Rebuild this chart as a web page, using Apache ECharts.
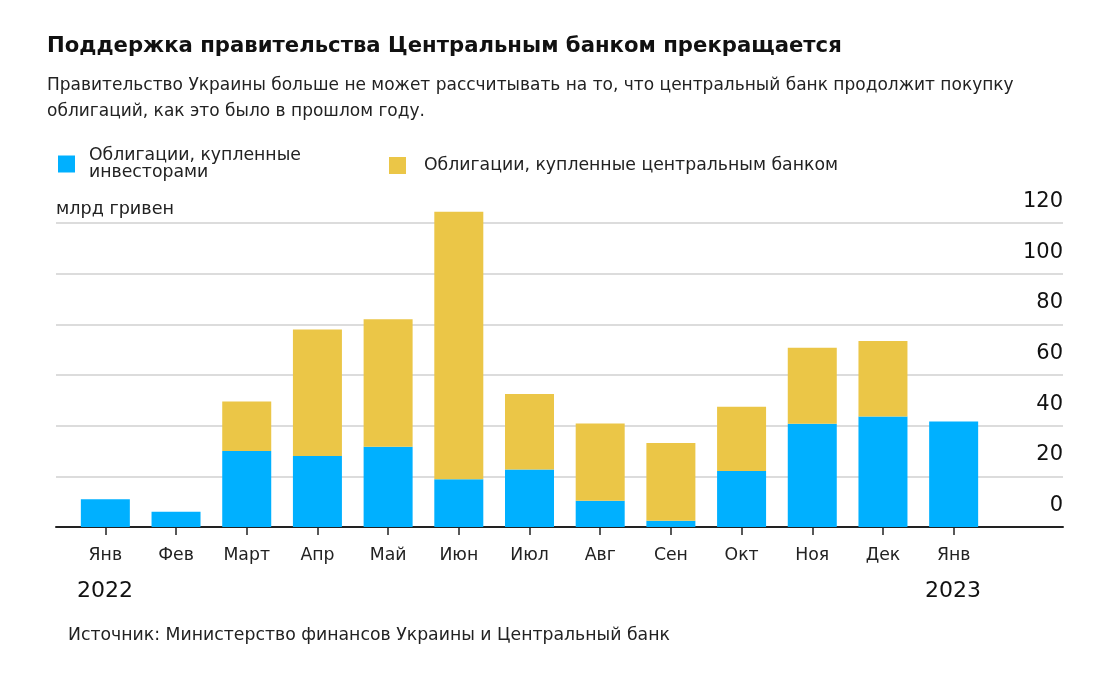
<!DOCTYPE html>
<html>
<head>
<meta charset="utf-8">
<script src="https://cdn.jsdelivr.net/npm/echarts@6/dist/echarts.min.js"></script>
<style>
html,body{margin:0;padding:0;background:#fff;}
#chart{width:1118px;height:677px;}
</style>
</head>
<body>
<div id="chart"></div>
<script>
const months = ['Янв','Фев','Март','Апр','Май','Июн','Июл','Авг','Сен','Окт','Ноя','Дек','Янв'];
const investors = [11, 6, 30, 28, 31.7, 18.8, 22.7, 10.4, 2.5, 22.1, 40.8, 43.6, 41.6];
const centralBank = [0, 0, 19.5, 50, 50.3, 105.6, 29.8, 30.5, 30.7, 25.4, 30, 29.8, 0];
const yTicks = [0, 20, 40, 60, 80, 100, 120];
const yearLabels = ['2022', '2023'];
const seriesNames = ['Облигации, купленные\nинвесторами', 'Облигации, купленные центральным банком'];
const titleText = 'Поддержка правительства Центральным банком прекращается';
const subtitleText = 'Правительство Украины больше не может рассчитывать на то, что центральный банк продолжит покупку\nоблигаций, как это было в прошлом году.';
const unitText = 'млрд гривен';
const sourceText = 'Источник: Министерство финансов Украины и Центральный банк';

const FONT = 'DejaVu Sans';
const chart = echarts.init(document.getElementById('chart'), null, {renderer: 'canvas'});
const yMin = yTicks[0], yMax = yTicks[yTicks.length - 1], yStep = yTicks[1] - yTicks[0];

chart.setOption({
  backgroundColor: '#fff',
  animation: false,
  textStyle: {fontFamily: FONT},
  title: [
    {text: titleText, left: 47, top: 36, padding: 0, textStyle: {fontFamily: FONT, fontSize: 21.2, fontWeight: 'bold', color: '#111'}},
    {text: subtitleText, left: 47, top: 73, padding: 0, textStyle: {fontFamily: FONT, fontSize: 17, fontWeight: 'normal', color: '#222', lineHeight: 26}},
    {text: unitText, left: 56, top: 200, padding: 0, textStyle: {fontFamily: FONT, fontSize: 17.6, fontWeight: 'normal', color: '#222'}},
    {text: yearLabels[0], left: 77, top: 580, padding: 0, textStyle: {fontFamily: FONT, fontSize: 22, fontWeight: 'normal', color: '#111'}},
    {text: yearLabels[1], left: 925, top: 580, padding: 0, textStyle: {fontFamily: FONT, fontSize: 22, fontWeight: 'normal', color: '#111'}},
    {text: sourceText, left: 68, top: 627, padding: 0, textStyle: {fontFamily: FONT, fontSize: 17.3, fontWeight: 'normal', color: '#222'}}
  ],
  legend: [
    {data: [seriesNames[0]], left: 58, top: 147, padding: 0, icon: 'rect', itemWidth: 17, itemHeight: 17,
     textStyle: {fontFamily: FONT, fontSize: 17.3, lineHeight: 17, color: '#222', padding: [0, 0, 0, 9]}},
    {data: [seriesNames[1]], left: 389, top: 157, padding: 0, icon: 'rect', itemWidth: 17, itemHeight: 17,
     textStyle: {fontFamily: FONT, fontSize: 17.3, lineHeight: 17, color: '#222', padding: [0, 0, 0, 13]}}
  ],
  grid: [
    {left: 56, right: 55, top: 223, bottom: 150},
    {left: 70, right: 129, top: 223, bottom: 150}
  ],
  xAxis: [
    {gridIndex: 0, type: 'value', min: 0, max: 1, show: true,
     axisLine: {show: true, onZero: false, lineStyle: {color: '#222', width: 2}},
     axisTick: {show: false}, axisLabel: {show: false}, splitLine: {show: false}},
    {gridIndex: 1, type: 'category', data: months,
     axisLine: {show: false},
     axisTick: {show: true, alignWithLabel: true, length: 8, lineStyle: {color: '#222', width: 1.5}},
     axisLabel: {margin: 20, fontFamily: FONT, fontSize: 17.3, color: '#222', interval: 0}}
  ],
  yAxis: [
    {gridIndex: 0, type: 'value', position: 'right', min: yMin, max: yMax, interval: yStep,
     axisLine: {show: false}, axisTick: {show: false},
     axisLabel: {inside: true, margin: 0, fontFamily: FONT, fontSize: 21, color: '#111', verticalAlign: 'bottom', padding: [0, 0, 11, 0]},
     splitLine: {show: true, lineStyle: {color: '#dcdcdc', width: 2}}},
    {gridIndex: 1, type: 'value', min: yMin, max: yMax, interval: yStep, show: false, splitLine: {show: false}}
  ],
  series: [
    {name: seriesNames[0], type: 'bar', stack: 'total', xAxisIndex: 1, yAxisIndex: 1, barWidth: 49, clip: false,
     itemStyle: {color: '#00B0FF'}, data: investors},
    {name: seriesNames[1], type: 'bar', stack: 'total', xAxisIndex: 1, yAxisIndex: 1, barWidth: 49, clip: false,
     itemStyle: {color: '#EBC647'}, data: centralBank}
  ]
});
</script>
</body>
</html>
